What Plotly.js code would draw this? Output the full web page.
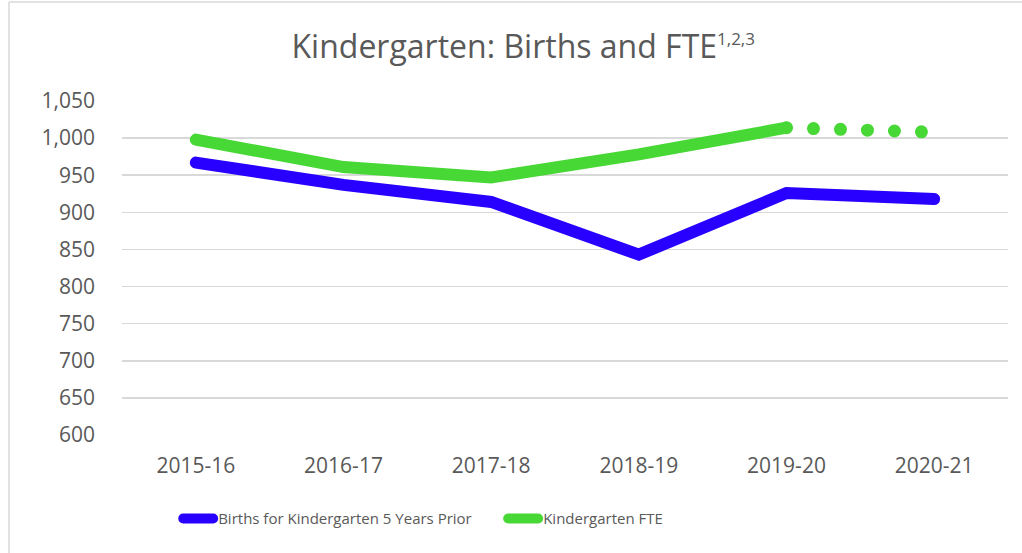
<!DOCTYPE html>
<html>
<head>
<meta charset="utf-8">
<script src="https://cdn.plot.ly/plotly-3.0.1.min.js"></script>
<style>
  html, body { margin: 0; padding: 0; background: #ffffff; }
  #chart { width: 1022px; height: 553px; }
  .scatterlayer .js-line, .legend .js-line { stroke-linecap: round; }
</style>
</head>
<body>
<div id="chart"></div>
<script>
// ---- data ----
const categories = ["2015-16", "2016-17", "2017-18", "2018-19", "2019-20", "2020-21"];
const births = [967, 937, 914, 843, 926, 918];
const fte = [998, 961, 947, 978, 1014, 1008];   // last value is the dotted (projected) one
const yTicks = [600, 650, 700, 750, 800, 850, 900, 950, 1000, 1050];
const seriesNames = ["Births for Kindergarten 5 Years Prior", "Kindergarten FTE"];

const BLUE = "#2800ff";
const GREEN = "#48d836";
const TEXT = "#595959";
const GRID = "#d9d9d9";

const traces = [
  {
    x: categories, y: births, type: "scatter", mode: "lines",
    name: seriesNames[0],
    line: { color: BLUE, width: 12 },
    hoverinfo: "x+y"
  },
  {
    x: categories.slice(0, 5), y: fte.slice(0, 5), type: "scatter", mode: "lines",
    name: seriesNames[1],
    line: { color: GREEN, width: 12 },
    hoverinfo: "x+y"
  },
  {
    x: categories.slice(4), y: fte.slice(4), type: "scatter", mode: "lines",
    name: seriesNames[1], showlegend: false,
    line: { color: GREEN, width: 13, dash: "0px,27px" },
    hoverinfo: "x+y"
  }
];

const layout = {
  width: 1022, height: 553,
  paper_bgcolor: "#ffffff", plot_bgcolor: "#ffffff",
  margin: { l: 122, r: 14, t: 101, b: 118, pad: 0 },
  font: { family: "Open Sans, sans-serif", color: TEXT },
  title: {
    text: "Kindergarten: Births and FTE<sup><span style=\"font-size:17px\">1,2,3</span></sup>",
    font: { family: "Open Sans, sans-serif", size: 32, color: TEXT },
    xref: "container", x: 0.512, xanchor: "center",
    yref: "container", y: 0.915, yanchor: "middle"
  },
  xaxis: {
    type: "category",
    range: [-0.5, 5.5],
    showgrid: false, zeroline: false, showline: false,
    ticks: "",
    ticklabelstandoff: 16,
    tickfont: { family: "Open Sans, sans-serif", size: 21, color: TEXT },
    fixedrange: true
  },
  yaxis: {
    range: [600, 1050],
    tickvals: yTicks,
    ticktext: yTicks.map(v => v.toLocaleString("en-US")),
    showgrid: true, gridcolor: GRID, gridwidth: 1.5,
    zeroline: false, showline: false,
    ticks: "",
    ticklabelstandoff: 26,
    tickfont: { family: "Open Sans, sans-serif", size: 21, color: TEXT },
    fixedrange: true
  },
  showlegend: true,
  legend: {
    orientation: "h",
    xref: "paper", x: 0.0634, xanchor: "left",
    yref: "container", y: 0.062, yanchor: "middle",
    font: { family: "Open Sans, sans-serif", size: 15, color: TEXT },
    bgcolor: "rgba(0,0,0,0)",
    itemwidth: 30,
    entrywidth: 280
  },
  shapes: [
    { type: "line", xref: "paper", yref: "paper",
      x0: (9 - 122) / 886, x1: (1030 - 122) / 886,
      y0: (435 - 2) / 334, y1: (435 - 2) / 334,
      line: { color: GRID, width: 1.5 } },
    { type: "line", xref: "paper", yref: "paper",
      x0: (9 - 122) / 886, x1: (9 - 122) / 886,
      y0: (435 - 2) / 334, y1: (435 - 560) / 334,
      line: { color: GRID, width: 1.5 } }
  ]
};

Plotly.newPlot("chart", traces, layout, { displayModeBar: false, staticPlot: true });
</script>
</body>
</html>
